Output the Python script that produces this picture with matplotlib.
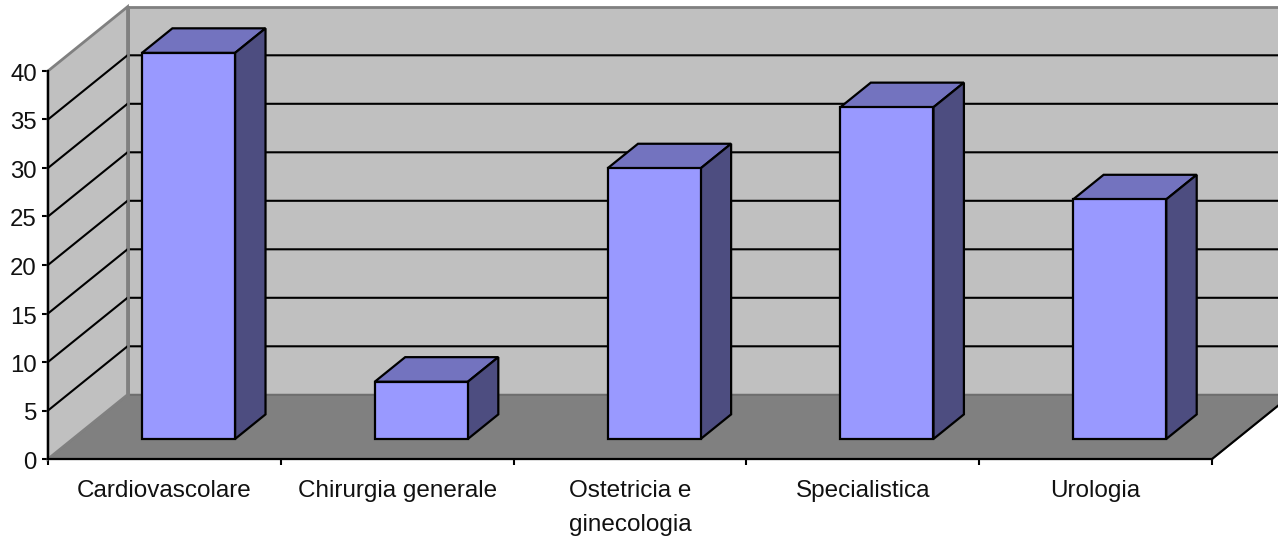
import matplotlib
matplotlib.use("Agg")
import matplotlib.pyplot as plt
from matplotlib.patches import Polygon
from matplotlib.transforms import ScaledTranslation

categories = ["Cardiovascolare", "Chirurgia generale", "Ostetricia e\nginecologia",
              "Specialistica", "Urologia"]
values = [39.8, 5.9, 27.9, 34.2, 24.7]
y_ticks = [0, 5, 10, 15, 20, 25, 30, 35, 40]

W, H = 1278, 538
X0, X1, Y0, Y1 = 48, 1212, 459, 71  # plot box in pixels, y measured from the top
YMAX = 40
NCAT = len(categories)

# Oblique depth vector, expressed in data units
DX = 79.5 / ((X1 - X0) / NCAT)
DY = 64.2 / ((Y0 - Y1) / YMAX)


def proj(c, v, d=0.0):
    return (c + d * DX, v + d * DY)


plt.rcParams["font.family"] = ["Liberation Sans", "DejaVu Sans"]
fig = plt.figure(figsize=(W / 100, H / 100), dpi=100, facecolor="white")
ax = fig.add_axes([X0 / W, 1 - Y0 / H, (X1 - X0) / W, (Y0 - Y1) / H])
ax.patch.set_visible(False)
ax.set_xlim(0, NCAT)
ax.set_ylim(0, YMAX)


def face(points, fc, ec, lw=1.5, z=1):
    ax.add_patch(Polygon(points, closed=True, facecolor=fc, edgecolor=ec,
                         linewidth=lw, clip_on=False, zorder=z, joinstyle="miter"))


WALL = "#C0C0C0"
FLOOR = "#808080"
EDGE = "#808080"

# Back wall, floor and side wall
face([proj(0, 0, 1), proj(NCAT, 0, 1), proj(NCAT, YMAX, 1), proj(0, YMAX, 1)], WALL, EDGE, 2, 1)
face([proj(0, 0), proj(NCAT, 0), proj(NCAT, 0, 1), proj(0, 0, 1)], FLOOR, "#6E6E6E", 1.5, 2)
face([proj(0, 0), proj(0, 0, 1), proj(0, YMAX, 1), proj(0, YMAX)], WALL, EDGE, 2, 2)

# Gridlines running across the side wall and along the back wall
for v in y_ticks[1:-1]:
    pts = [proj(0, v), proj(0, v, 1), proj(NCAT, v, 1)]
    ax.plot(*zip(*pts), color="black", lw=1.5, clip_on=False, zorder=3, solid_joinstyle="miter")
ax.plot(*zip(proj(0, 0, 1), proj(0, YMAX, 1)), color=EDGE, lw=2, clip_on=False, zorder=3)

# The floor's open right edge
ax.plot(*zip(proj(NCAT, 0), proj(NCAT, 0, 1)), color="black", lw=1.5, clip_on=False, zorder=3)

# Extruded bars
BAR_W = 0.4
BAR_SHIFT = -0.003
D_FRONT, D_BACK = 0.312, 0.695
FRONT_C = "#9999FF"
TOP_C = "#7373BF"
SIDE_C = "#4D4D80"
for i, v in enumerate(values):
    l = i + 0.5 - BAR_W / 2 + BAR_SHIFT
    r = i + 0.5 + BAR_W / 2 + BAR_SHIFT
    face([proj(l, 0, D_FRONT), proj(r, 0, D_FRONT), proj(r, v, D_FRONT), proj(l, v, D_FRONT)],
         FRONT_C, "black", 1.6, 5)
    face([proj(l, v, D_FRONT), proj(r, v, D_FRONT), proj(r, v, D_BACK), proj(l, v, D_BACK)],
         TOP_C, "black", 1.6, 4)
    face([proj(r, 0, D_FRONT), proj(r, 0, D_BACK), proj(r, v, D_BACK), proj(r, v, D_FRONT)],
         SIDE_C, "black", 1.6, 4)

# Axes, ticks and labels
for s in ("top", "right"):
    ax.spines[s].set_visible(False)
for s in ("left", "bottom"):
    ax.spines[s].set_linewidth(1.6)
    ax.spines[s].set_zorder(6)
ax.set_yticks(y_ticks)
ax.set_yticklabels([str(t) for t in y_ticks])
ax.tick_params(axis="y", length=4, width=1.5, pad=4, labelsize=17.3, labelcolor="#111111")
nudge = ScaledTranslation(0, -1.5 / 100, fig.dpi_scale_trans)
for lab in ax.get_yticklabels():
    lab.set_transform(lab.get_transform() + nudge)
ax.set_xticks(range(NCAT + 1))
ax.set_xticklabels([])
ax.tick_params(axis="x", which="major", length=4, width=1.5)
ax.set_xticks([i + 0.5 for i in range(NCAT)], minor=True)
ax.set_xticklabels(categories, minor=True, linespacing=1.72)
ax.tick_params(axis="x", which="minor", length=0, pad=15, labelsize=17.5, labelcolor="#111111")

fig.savefig("out.png", dpi=100)
